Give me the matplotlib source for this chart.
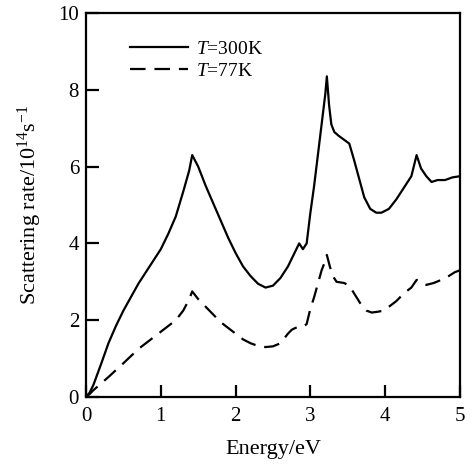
import matplotlib.pyplot as plt

# ---------------------------------------------------------------------
#  Dados
# ---------------------------------------------------------------------

energia_300 = [0.0, 0.05, 0.1, 0.2, 0.3, 0.4, 0.5, 0.7, 0.9, 1.0, 1.1, 1.2, 1.3, 1.38, 1.42,
               1.5, 1.6, 1.7, 1.8, 1.9, 2.0, 2.1, 2.2, 2.3, 2.4, 2.5, 2.6, 2.7, 2.8,
               2.85, 2.9, 2.95, 3.0, 3.05, 3.1, 3.15, 3.2, 3.22, 3.25, 3.28, 3.32,
               3.38, 3.45, 3.52, 3.58, 3.65, 3.72, 3.8, 3.88, 3.95, 4.05, 4.15, 4.25,
               4.35, 4.42, 4.48, 4.55, 4.62, 4.7, 4.8, 4.9, 5.0]
taxa_300 = [0.0, 0.12, 0.32, 0.85, 1.4, 1.85, 2.25, 2.95, 3.55, 3.85, 4.25, 4.7, 5.35, 5.9, 6.3,
            6.0, 5.5, 5.05, 4.6, 4.15, 3.75, 3.4, 3.15, 2.95, 2.85, 2.9, 3.1, 3.4, 3.8,
            4.0, 3.85, 4.0, 4.8, 5.5, 6.3, 7.1, 7.9, 8.35, 7.6, 7.1, 6.9,
            6.8, 6.7, 6.6, 6.2, 5.7, 5.2, 4.9, 4.8, 4.8, 4.9, 5.15, 5.45,
            5.75, 6.3, 5.95, 5.75, 5.6, 5.65, 5.65, 5.72, 5.75]

energia_77 = [0.0, 0.05, 0.1, 0.2, 0.3, 0.4, 0.5, 0.7, 0.9, 1.0, 1.1, 1.2, 1.3, 1.38, 1.42,
              1.5, 1.6, 1.7, 1.8, 1.9, 2.0, 2.1, 2.2, 2.3, 2.4, 2.5, 2.6, 2.7, 2.75,
              2.8, 2.9, 2.95, 3.0, 3.05, 3.1, 3.15, 3.2, 3.22, 3.26, 3.3, 3.35,
              3.45, 3.52, 3.6, 3.68, 3.75, 3.82, 3.9, 3.98, 4.05, 4.15, 4.25, 4.35,
              4.42, 4.48, 4.55, 4.65, 4.75, 4.85, 4.93, 5.0]
taxa_77 = [0.0, 0.08, 0.18, 0.35, 0.52, 0.7, 0.88, 1.25, 1.55, 1.7, 1.85, 2.0, 2.25, 2.55, 2.75,
           2.55, 2.35, 2.15, 1.95, 1.8, 1.65, 1.5, 1.4, 1.33, 1.3, 1.32, 1.4, 1.65, 1.75,
           1.8, 1.82, 1.9, 2.3, 2.6, 2.95, 3.3, 3.55, 3.7, 3.4, 3.15, 3.0,
           2.97, 2.9, 2.65, 2.4, 2.25, 2.2, 2.22, 2.25, 2.35, 2.5, 2.7, 2.85,
           3.05, 3.0, 2.92, 2.97, 3.05, 3.15, 3.25, 3.3]

rotulos_legenda = ['$\\mathit{T}$=300K', '$\\mathit{T}$=77K']

# ---------------------------------------------------------------------
#  Gráfico
# ---------------------------------------------------------------------

plt.rcParams['font.family'] = 'Liberation Serif'
plt.rcParams['mathtext.fontset'] = 'custom'
plt.rcParams['mathtext.rm'] = 'Liberation Serif'
plt.rcParams['mathtext.it'] = 'Liberation Serif:italic'

fig = plt.figure(figsize=(4.71, 4.70), dpi=100)
ax = fig.add_axes([0.1826, 0.1553, 0.794, 0.817])

ax.plot(energia_300, taxa_300, color='black', linewidth=1.6, label=rotulos_legenda[0])
ax.plot(energia_77, taxa_77, color='black', linewidth=1.6, linestyle=(0, (7, 4)),
        label=rotulos_legenda[1])

ax.set_xlim(0, 5)
ax.set_ylim(0, 10)
ax.set_xticks([0, 1, 2, 3, 4, 5])
ax.set_yticks([0, 2, 4, 6, 8, 10])
ax.tick_params(direction='in', length=9, width=1.6, labelsize=15)
ax.tick_params(axis='x', pad=7)
ax.tick_params(axis='y', pad=5)

for spine in ax.spines.values():
    spine.set_linewidth(1.6)

ax.set_xlabel('Energy/eV', fontsize=16, labelpad=10)
ax.set_ylabel('Scattering rate/10$^{14}$s$^{-1}$', fontsize=16, labelpad=10)

ax.legend(loc='upper left', bbox_to_anchor=(0.07, 0.975), frameon=False, fontsize=14,
          handlelength=3.0, handletextpad=0.4, labelspacing=0.25)

plt.savefig('out.png', dpi=100)
